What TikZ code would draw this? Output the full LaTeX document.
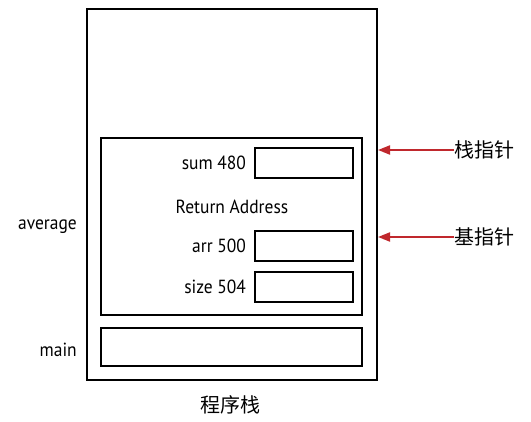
\documentclass[tikz,border=0pt]{standalone}
\usepackage{fontspec}
\setmainfont{PT Sans}[FakeStretch=0.92]
\newfontfamily\cjk{Noto Sans CJK SC}
\usepackage{xcolor}
\usetikzlibrary{arrows.meta,positioning}
\definecolor{ptrred}{HTML}{C0282D}

\begin{document}
\begin{tikzpicture}[x=1pt,y=-1pt,>={Triangle[length=12pt,width=9pt]},
    frame/.style={draw,line width=1.6pt},
    slot/.style={draw,line width=1.6pt,minimum width=98pt,minimum height=30pt,inner sep=0pt},
    lbl/.style={font=\fontsize{19}{21}\selectfont,inner sep=0pt},
    zh/.style={font=\cjk\fontsize{20}{22}\selectfont,inner sep=0pt}]
    \useasboundingbox (0,0) rectangle (531,422);
    % program stack
    \draw[frame] (87,9) rectangle (377,380);
    \draw[frame] (101,138) rectangle (362,315);
    \node[slot,minimum width=261pt,minimum height=38pt] (mainbox) at (231.5,347) {};
    \coordinate (edge) at (378,0);
    % slots of average
    \node[slot] (sum) at (304,163) {};
    \node[slot] (arr) at (304,246) {};
    \node[slot] (size) at (304,287) {};
    \node[lbl,left=8pt of sum] {sum 480};
    \node[lbl] (ret) at (232,207) {Return Address};
    \node[lbl,left=8pt of arr] {arr 500};
    \node[lbl,left=8pt of size] {size 504};
    % frame names
    \node[lbl,anchor=east] (avg) at (77,227) {average};
    \node[lbl,anchor=east] (mainlbl) at (77,350) {main};
    \node[zh] (title) at (230,405) {程序栈};
    % pointers
    \node[zh,anchor=west] (sp) at (454,150) {栈指针};
    \node[zh,anchor=west] (bp) at (454,237) {基指针};
    \draw[->,ptrred,line width=2pt] (sp.west) -- (sp.west -| edge);
    \draw[->,ptrred,line width=2pt] (bp.west) -- (bp.west -| edge);
\end{tikzpicture}
\end{document}
